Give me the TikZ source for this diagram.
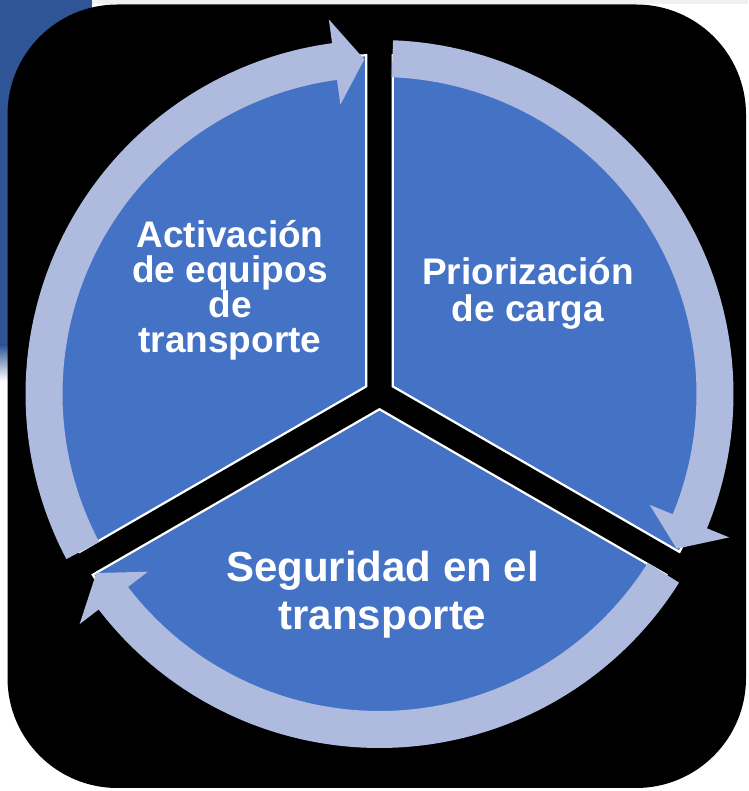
\documentclass[tikz,border=0pt]{standalone}
\usepackage{fontspec}
\setmainfont{Liberation Sans}
\definecolor{sectorblue}{RGB}{68,114,196}
\definecolor{ringblue}{RGB}{174,186,222}
\definecolor{swoosh}{RGB}{47,85,151}
\newcommand{\cyclines}[2]{\vtop{\baselineskip=#1\lineskiplimit=-1000pt\lineskip=0pt\halign{\hfil##\hfil\cr#2\cr}}}
\begin{document}
\begin{tikzpicture}[x=1pt,y=1pt,
  sector/.style={fill=sectorblue, draw=white, line width=2.2pt, line join=miter},
  ringarrow/.style={fill=ringblue},
  cyclabel/.style={text=white, inner sep=0pt, anchor=base}]
\useasboundingbox (0,0) rectangle (748,791);
\fill[white] (0,0) rectangle (748,791);
\fill[swoosh] (0,446) rectangle (92,791);
\shade[top color=swoosh, bottom color=white] (0,410) rectangle (10,446);
\fill[gray!12] (92,787) rectangle (748,791);
\fill[black, rounded corners=110pt] (7.5,3) rectangle (746,786.5);

\begin{scope}[shift={(379.5,397)}]
  % sectors
  \path[sector] (150:15.24) -- (92.23:339pt) arc[start angle=92.23, end angle=207.77, radius=339pt] -- cycle;
  \path[sector] (270:15.24) -- (212.23:339pt) arc[start angle=212.23, end angle=327.77, radius=339pt] -- cycle;
  \path[sector] (30:15.24) -- (-27.77:339pt) arc[start angle=-27.77, end angle=87.77, radius=339pt] -- cycle;
  % ring arrows (clockwise)
  \fill[ringarrow] (87.8:354pt) arc[start angle=87.8, end angle=-22.3, radius=354pt]
     -- (-22.3:378pt) -- (-27.5:335pt) -- (-22.3:292pt) -- (-22.3:317pt)
     arc[start angle=-22.3, end angle=87.8, radius=317pt] -- cycle;
  \fill[ringarrow] (327.8:354pt) arc[start angle=327.8, end angle=217.5, radius=354pt]
     -- (217.5:378pt) -- (212.3:335pt) -- (217.5:292pt) -- (217.5:317pt)
     arc[start angle=217.5, end angle=327.8, radius=317pt] -- cycle;
  \fill[ringarrow] (207.8:354pt) arc[start angle=207.8, end angle=97.7, radius=354pt]
     -- (97.7:378pt) -- (92.6:335pt) -- (97.7:292pt) -- (97.7:317pt)
     arc[start angle=97.7, end angle=207.8, radius=317pt] -- cycle;
\end{scope}

\node[cyclabel, font={\bfseries\fontsize{37}{35}\selectfont}] (act) at (230,543.7)
  {\cyclines{35pt}{Activación\cr de equipos\cr de\cr transporte}};
\node[cyclabel, font={\bfseries\fontsize{37}{37}\selectfont}] (pri) at (528,506)
  {\cyclines{37pt}{Priorización\cr de carga}};
\node[cyclabel, font={\bfseries\fontsize{42}{48}\selectfont}] (seg) at (382.5,209)
  {\cyclines{48pt}{Seguridad en el\cr transporte}};
\end{tikzpicture}
\end{document}
